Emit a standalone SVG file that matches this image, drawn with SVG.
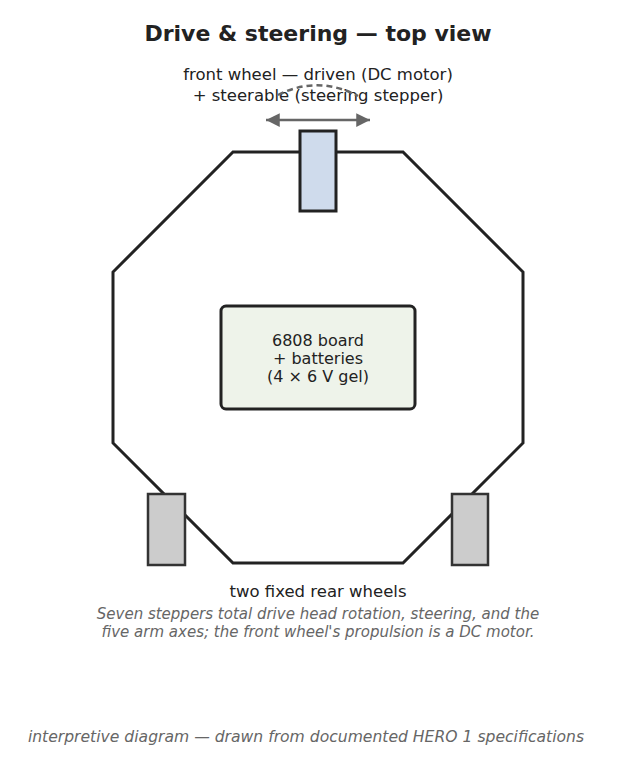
<svg xmlns="http://www.w3.org/2000/svg" width="636" height="759" viewBox="0 0 636 759">
<defs>
<style>
text{font-family:"DejaVu Sans","Noto Sans",sans-serif;text-anchor:middle;fill:#222}
.title{font-size:22px;font-weight:bold}
.lbl{font-size:16.5px}
.inner{font-size:16px}
.note{font-size:15px;font-style:italic;fill:#666}
.foot{font-size:15.6px;font-style:italic;fill:#666}
.body{fill:#fff;stroke:#222;stroke-width:3}
.front{fill:#cfdbec;stroke:#222;stroke-width:3}
.rear{fill:#cccccc;stroke:#333;stroke-width:2.5}
.board{fill:#eef3ea;stroke:#222;stroke-width:3}
.conn{fill:none;stroke:#666;stroke-width:2.5}
</style>
<marker id="ah" viewBox="0 0 10 10" refX="10" refY="5" markerWidth="6" markerHeight="5.5" orient="auto-start-reverse" markerUnits="strokeWidth">
<path d="M0,0 L10,5 L0,10 z" fill="#666"/>
</marker>
</defs>
<rect width="636" height="759" fill="#fff"/>
<text class="title" x="318" y="41">Drive &amp; steering — top view</text>
<g id="chassis">
<polygon class="body" points="233,152 403,152 523,272 523,443 403,563 233,563 113,443 113,272"/>
</g>
<g id="front-wheel">
<rect class="front" x="300" y="131" width="36" height="80"/>
</g>
<g id="rear-left">
<rect class="rear" x="148" y="494" width="37" height="71"/>
</g>
<g id="rear-right">
<rect class="rear" x="452" y="494" width="36" height="71"/>
</g>
<g id="board">
<rect class="board" x="221" y="306" width="194" height="103" rx="5"/>
<text class="inner" x="318" y="346">6808 board</text>
<text class="inner" x="318" y="364">+ batteries</text>
<text class="inner" x="318" y="382">(4 × 6 V gel)</text>
</g>
<g id="front-label">
<text class="lbl" x="318" y="80">front wheel — driven (DC motor)</text>
<text class="lbl" x="318" y="101">+ steerable (steering stepper)</text>
</g>
<g id="connectors">
<line class="conn" x1="266" y1="120" x2="370" y2="120" marker-start="url(#ah)" marker-end="url(#ah)"/>
<path class="conn" d="M278,95 Q318,75 358,96" stroke-dasharray="6,4"/>
</g>
<text class="lbl" x="318" y="597">two fixed rear wheels</text>
<text class="note" x="318" y="619">Seven steppers total drive head rotation, steering, and the</text>
<text class="note" x="318" y="637">five arm axes; the front wheel's propulsion is a DC motor.</text>
<text class="foot" x="306" y="742">interpretive diagram — drawn from documented HERO 1 specifications</text>
</svg>
